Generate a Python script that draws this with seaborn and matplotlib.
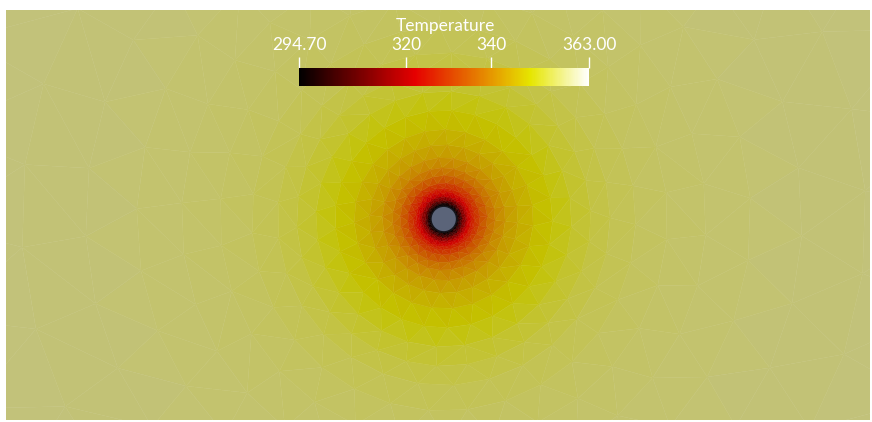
import numpy as np
import matplotlib
matplotlib.use('Agg')
import matplotlib.pyplot as plt
import matplotlib.tri as mtri
from matplotlib.colors import LinearSegmentedColormap, Normalize
from matplotlib.cm import ScalarMappable
from matplotlib.patches import Circle
import seaborn as sns


# radial temperature profile (distance in cylinder radii)
ring_radius = [1.0, 1.12, 1.25, 1.45, 1.7, 1.9, 2.15, 2.4, 2.8, 3.4, 4.0,
               4.8, 5.8, 7.0, 8.5, 10.0, 11.5, 13.0, 15.0, 17.5, 20.5, 24.0,
               28.0, 33.0, 40.0]
ring_temp = [294.7, 296.0, 300.0, 309.0, 316.0, 321.0, 325.0, 328.0, 332.0, 336.5, 340.0,
             343.0, 345.5, 347.5, 349.5, 351.8, 353.5, 354.8, 355.7, 356.4, 356.9, 357.2,
             357.5, 357.7, 358.0]
# mesh nodes on each ring
ring_nodes = [20, 21, 22, 23, 24, 23, 25, 24, 26, 25, 27,
              26, 28, 27, 29, 28, 30, 29, 31, 30, 32, 31, 33, 32, 34]

t_min, t_max = 294.70, 363.00
tick_values = [294.70, 320, 340, 363.00]
tick_labels = ['294.70', '320', '340', '363.00']

# ParaView "Black-Body Radiation" preset
bb_pos = [0.0, 0.4, 0.8, 1.0]
bb_rgb = [(0, 0, 0), (0.901961, 0, 0), (0.901961, 0.901961, 0), (1, 1, 1)]
# scene lighting dims the surface, the pale end more strongly
bb_shade = [0.88, 0.90, 0.85, 0.76]

W, H = 872, 422

sns.set_theme(style='white')
plt.rcParams['font.family'] = ['Lato', 'DejaVu Sans']

cmap = LinearSegmentedColormap.from_list('blackbody', list(zip(bb_pos, bb_rgb)))
cmap_lit = LinearSegmentedColormap.from_list(
    'blackbody_lit',
    [(p, tuple(s * c for c in rgb)) for p, rgb, s in zip(bb_pos, bb_rgb, bb_shade)])
norm = Normalize(t_min, t_max)

# ring mesh around the cylinder
xs, ys, ts = [], [], []
for k, (r, t, n) in enumerate(zip(ring_radius, ring_temp, ring_nodes)):
    ang = np.linspace(0, 2 * np.pi, n, endpoint=False) + 0.37 * k
    xs.append(r * np.cos(ang))
    ys.append(r * np.sin(ang))
    ts.append(np.full(n, t))
x = np.concatenate(xs)
y = np.concatenate(ys)
temp = np.concatenate(ts)

tri = mtri.Triangulation(x, y)
cx = x[tri.triangles].mean(axis=1)
cy = y[tri.triangles].mean(axis=1)
tri.set_mask(np.hypot(cx, cy) < 0.98)

fig = plt.figure(figsize=(W / 100, H / 100), dpi=100, facecolor='white')
ax = fig.add_axes([6 / W, 2 / H, 864 / W, 410 / H])
ax.tripcolor(tri, temp, shading='flat', cmap=cmap_lit, norm=norm,
             edgecolors='face', linewidth=0.3)
ax.add_patch(Circle((0, 0), 1.0, facecolor='#5b6479', edgecolor='#15151c', lw=1.0, zorder=3))
ax.set_xlim(-34.2, 33.3)
ax.set_ylim(-15.7, 16.33)
ax.set_aspect('auto')
ax.axis('off')

# colour legend
cax = fig.add_axes([299 / W, 1 - 86 / H, 290 / W, 18 / H])
cb = fig.colorbar(ScalarMappable(norm=norm, cmap=cmap), cax=cax, orientation='horizontal')
cb.set_ticks(tick_values, labels=tick_labels)
cb.outline.set_visible(False)
cax.xaxis.set_ticks_position('top')
cax.tick_params(axis='x', colors='white', length=8, width=1, direction='out',
                pad=3, labelsize=12.5)
fig.text(445 / W, 1 - 26 / H, 'Temperature', ha='center', va='center',
         color='white', fontsize=12.5)

fig.savefig('out.png', dpi=100, facecolor='white')
